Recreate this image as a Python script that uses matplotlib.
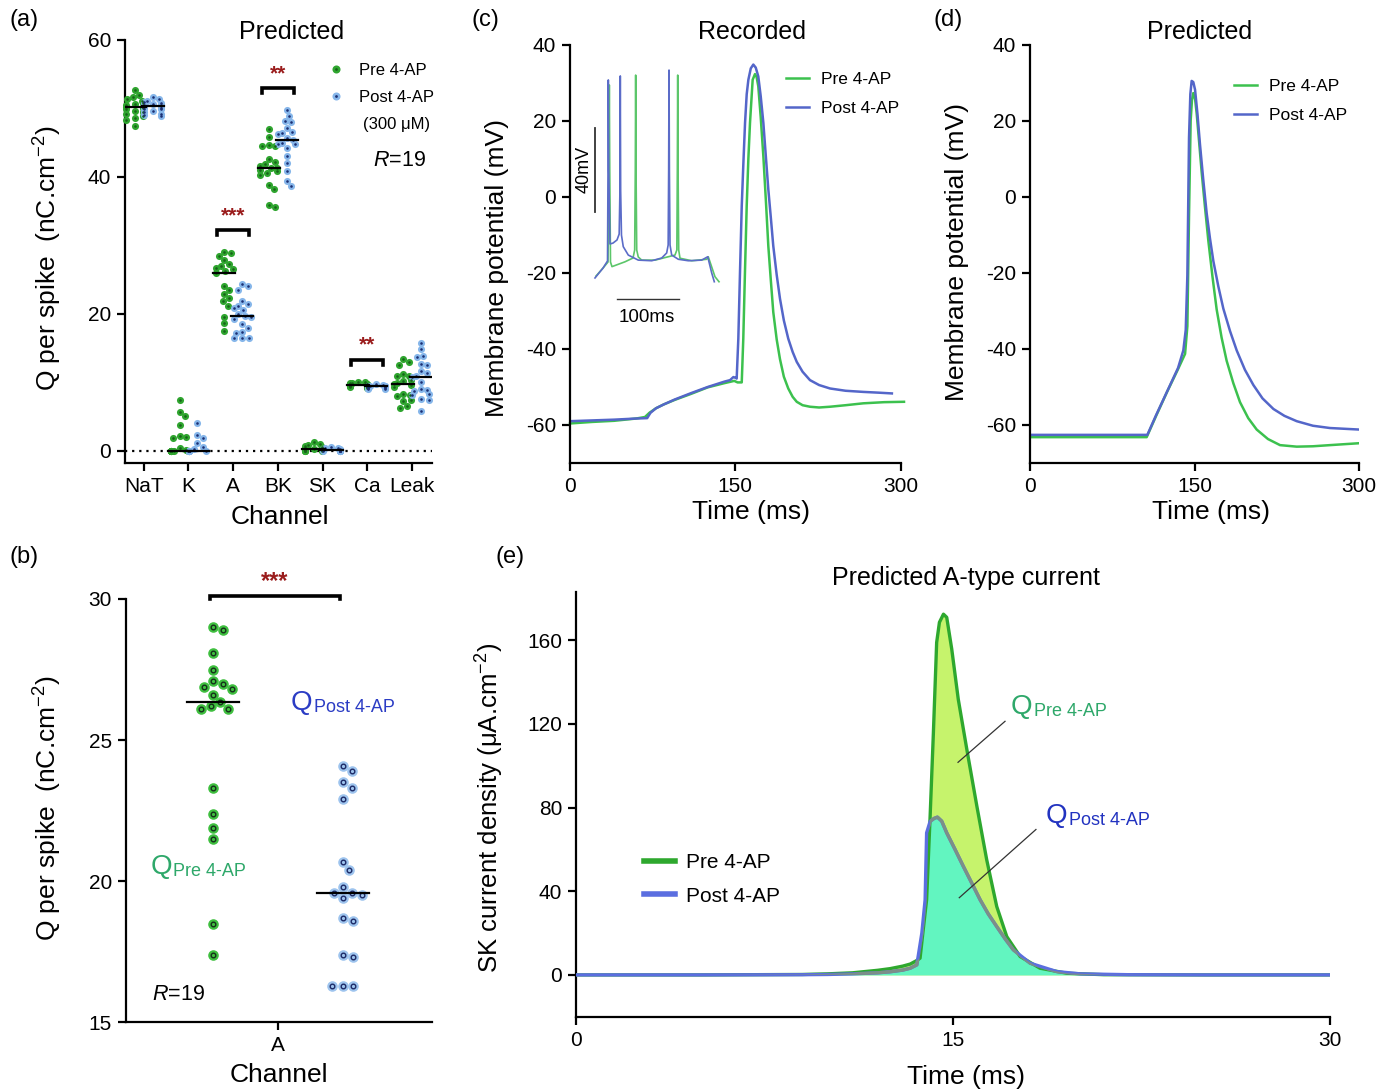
import numpy as np
import matplotlib
matplotlib.use('Agg')
import matplotlib.pyplot as plt
from matplotlib.lines import Line2D

plt.rcParams['font.family'] = ['Liberation Sans', 'DejaVu Sans']
plt.rcParams['mathtext.fontset'] = 'custom'
plt.rcParams['mathtext.rm'] = 'Liberation Sans'
plt.rcParams['mathtext.it'] = 'Liberation Sans:italic'
plt.rcParams['axes.unicode_minus'] = False

# ---------------- data ----------------
channels = ['NaT', 'K', 'A', 'BK', 'SK', 'Ca', 'Leak']

nat_pre = [52.6, 51.9, 51.6, 51.3, 51.0, 50.8, 50.6, 50.4, 50.2, 50.1, 50.0, 49.8, 49.6, 49.4, 49.2, 48.9, 48.6, 48.3, 47.4]
nat_post = [51.6, 51.3, 51.1, 50.9, 50.8, 50.6, 50.5, 50.4, 50.3, 50.3, 50.2, 50.0, 49.9, 49.8, 49.6, 49.4, 49.2, 49.0, 48.8]
k_pre = [7.4, 5.7, 5.1, 3.8, 2.2, 2.0, 1.9, 0.4, 0.2, 0, 0, 0, 0, 0, 0, 0, 0, 0, 0]
k_post = [4.1, 2.3, 1.9, 1.1, 0.6, 0.3, 0, 0, 0, 0, 0, 0, 0, 0, 0, 0, 0, 0, 0]
a_pre = [29.0, 28.9, 28.4, 27.8, 27.2, 27.0, 26.7, 26.5, 26.3, 26.0, 24.0, 23.4, 22.9, 22.3, 21.8, 21.2, 19.6, 18.6, 17.5]
a_post = [24.3, 24.0, 23.5, 21.9, 21.4, 21.2, 20.8, 20.6, 20.0, 19.7, 19.6, 19.2, 18.5, 18.0, 17.4, 17.2, 16.4, 16.4, 16.4]
bk_pre = [46.9, 45.8, 44.6, 44.5, 44.4, 42.6, 42.2, 41.8, 41.6, 41.3, 41.2, 41.0, 40.8, 40.5, 40.2, 38.8, 38.2, 35.9, 35.6]
bk_post = [49.7, 48.8, 48.1, 47.9, 47.1, 46.5, 46.4, 46.2, 45.6, 45.4, 44.9, 44.8, 44.7, 44.2, 43.0, 42.0, 40.8, 39.3, 38.6]
sk_pre = [1.3, 1.0, 0.9, 0.7, 0.6, 0.5, 0.5, 0.4, 0.3, 0.3, 0.2, 0.2, 0.1, 0.1, 0.1, 0.0, 0.0, 0.0, 0.0]
sk_post = [0.6, 0.5, 0.4, 0.3, 0.3, 0.2, 0.2, 0.2, 0.1, 0.1, 0.1, 0.1, 0.0, 0.0, 0.0, 0.0, 0.0, 0.0, 0.0]
ca_pre = [10.1, 10.0, 9.9, 9.9, 9.8, 9.8, 9.7, 9.7, 9.6, 9.6, 9.6, 9.5, 9.5, 9.5, 9.4, 9.4, 9.3, 9.3, 9.2]
ca_post = [9.7, 9.6, 9.5, 9.5, 9.5, 9.4, 9.4, 9.4, 9.4, 9.4, 9.3, 9.3, 9.3, 9.3, 9.2, 9.2, 9.2, 9.1, 9.1]
leak_pre = [13.4, 12.9, 12.6, 11.2, 11.0, 10.9, 10.4, 10.2, 9.9, 9.8, 9.6, 9.3, 8.3, 8.2, 8.0, 7.5, 7.3, 6.5, 6.3]
leak_post = [15.8, 14.8, 13.9, 13.7, 12.7, 12.5, 11.7, 11.3, 11.0, 10.8, 10.1, 9.0, 8.9, 8.8, 8.3, 8.2, 7.6, 7.4, 5.8]
pre_groups = [nat_pre, k_pre, a_pre, bk_pre, sk_pre, ca_pre, leak_pre]
post_groups = [nat_post, k_post, a_post, bk_post, sk_post, ca_post, leak_post]
# significance: channel index, star text
sig_marks = [(2, '***'), (3, '**'), (5, '**')]

# panel (b): A-type charge
b_pre = [29.0, 28.9, 28.1, 27.5, 27.1, 27.0, 26.9, 26.8, 26.6, 26.35, 26.2, 26.1, 26.1, 23.3, 22.4, 21.9, 21.5, 18.5, 17.4]
b_post = [24.1, 23.9, 23.5, 23.3, 22.9, 20.7, 20.4, 19.8, 19.6, 19.6, 19.5, 19.4, 18.7, 18.6, 17.4, 17.3, 16.3, 16.3, 16.3]

# panel (c): recorded AP
rec_t_pre = [0, 20, 40, 60, 68, 72, 78, 85, 95, 110, 125, 140, 149, 152, 155.8, 157.2, 158.7, 160.3, 161.8, 163.3, 165.7,
             167.8, 169.3, 170.8, 173, 175.4, 177.7, 179.9, 182.2, 184.4, 187.5, 190.5, 194, 198, 202, 205.7, 211,
             217.7, 226, 235.9, 250, 266.1, 285, 303]
rec_v_pre = [-59.6, -59.2, -58.9, -58.3, -57.9, -56.8, -55.6, -54.6, -53.4, -51.8, -50.1, -49.0, -48.4, -48.8, -48.8,
             -37.3, -20, -2.4, 10, 19.5, 30.8, 32.3, 31.5, 29.1, 21, 10.7, -1, -12.9, -22, -30.3, -37.5, -42.7, -47.3,
             -50.4, -52.6, -53.9, -54.8, -55.2, -55.4, -55.2, -54.8, -54.3, -54.0, -53.9]
rec_t_post = [0, 20, 40, 60, 70, 73, 78, 85, 95, 110, 125, 140, 145.2, 148.2, 150.3, 151.2, 152.7, 154.2, 155.8, 157.3,
              158.8, 160.3, 161.8, 164, 166.3, 168.5, 170.8, 173, 175.4, 177.7, 179.9, 182.2, 184.4, 187.5, 190.5,
              194, 198, 202, 205.7, 211, 217.7, 226, 235.9, 250, 266.1, 280, 292]
rec_v_post = [-59.0, -58.8, -58.6, -58.3, -58.2, -56.8, -55.6, -54.6, -53.3, -51.6, -50.0, -48.6, -48.2, -47.4, -47.6,
              -47.8, -37.3, -20, -2.4, 9, 19.5, 27, 30.8, 33.8, 34.8, 34.0, 31.7, 26.5, 19.5, 10.5, 2.0, -5.5, -12.9,
              -20.5, -26.8, -32.5, -37.3, -40.8, -43.4, -46, -48.2, -49.5, -50.4, -51.0, -51.3, -51.5, -51.7]

# inset of (c): spike train
ins_t_pre = [1.6, 12.9, 21.0, 22.4, 23.1, 23.8, 25.0, 27.4, 48.4, 61.3, 64.0, 65.0, 65.6, 66.2, 67.3, 69.8, 75.3, 96.8,
             118.2, 129.0, 132.0, 132.8, 133.4, 134.0, 135.0, 137.1, 156.0, 180.2, 182.7, 193.5, 200.0]
ins_v_pre = [-90.5, -86.7, -83.8, -40, 0.5, -40, -83.8, -86.0, -83.7, -81.9, -78.1, -40, 5.2, -40, -78.1, -81.4, -82.9,
             -82.9, -81.3, -80.5, -78.1, -40, 5.2, -40, -78.1, -82.0, -83.2, -82.5, -81.3, -90.8, -93.2]
ins_t_post = [0, 12.9, 20.2, 21.0, 21.5, 22.2, 24.2, 29.0, 35.5, 39.0, 40.2, 40.8, 41.4, 42.7, 45.6, 53.7, 69.8, 91.5,
              107.6, 115.6, 118.0, 118.8, 119.4, 120.0, 121.0, 123.7, 134.4, 150.5, 172.1, 181.8, 188.2, 192.4]
ins_v_post = [-91.4, -86.7, -83.3, -40, 2.9, -40, -75.2, -74.8, -73.3, -70.5, -50, 4.8, -50, -71, -76.5, -80.5, -82.9,
              -83.2, -81.9, -79.5, -75.7, -40, 7.6, -40, -75.7, -80.5, -82.5, -83.2, -82.9, -81.3, -89, -93.2]

# panel (d): predicted AP
pred_t_pre = [0, 50, 106.4, 115, 125, 135, 141.4, 143.5, 145, 146.5, 147.7, 148.9, 150.5, 152, 154.2, 156.5, 159.5,
              162.6, 166.4, 170.2, 174.7, 179.3, 185.4, 191.5, 199, 206.7, 217, 228, 243.2, 258, 273.5, 300]
pred_v_pre = [-63.2, -63.2, -63.2, -57.6, -51.3, -45.3, -41.3, -34, -5, 20.1, 25.5, 27.3, 25.8, 21.9, 14.5, 6.6, -2.5,
              -11.5, -21, -29.6, -37, -43.1, -49, -54, -58.2, -61.2, -63.7, -65.3, -65.7, -65.6, -65.3, -64.8]
pred_t_post = [0, 50, 107, 115, 125, 135, 139.8, 142, 143.5, 145, 146.2, 147.4, 148.9, 150.5, 152.7, 155, 158, 161.1,
               164.1, 167.2, 171.7, 176.3, 182.4, 188.5, 196, 203.7, 212, 222, 232, 243.2, 258, 273.5, 300]
pred_v_post = [-62.6, -62.6, -62.6, -57.4, -51.2, -45, -40.4, -35, -20.6, 15.6, 27, 30.5, 30.2, 28.2, 21.8, 13.8, 4.5,
               -4.3, -10.9, -16.9, -23.5, -29.4, -35.3, -40.4, -45.5, -49.5, -53, -55.8, -57.6, -59, -60.2, -60.8, -61.2]

# panel (e): predicted A-type current
cur_t_pre = [0, 5, 9, 10, 11, 12, 12.5, 13, 13.3, 13.56, 13.69, 13.8, 13.95, 14.09, 14.22, 14.35, 14.46, 14.62, 14.75,
             14.95, 15.21, 15.55, 15.95, 16.34, 16.74, 17.14, 17.67, 18.46, 19.53, 21, 25, 30]
cur_v_pre = [0, 0, 0.2, 0.5, 1.0, 2.2, 3.0, 4.2, 5.2, 6.9, 8.0, 20, 35.9, 75.8, 115.8, 158.9, 168.5, 172.4, 170.9,
             155.7, 131.7, 107.8, 80.6, 55.1, 32.7, 18.3, 8.8, 3.2, 0.8, 0.1, 0, 0]
cur_t_post = [0, 5, 9, 10, 11, 12, 12.5, 13, 13.3, 13.56, 13.76, 13.89, 13.95, 14.09, 14.25, 14.38, 14.55, 14.75,
              15.08, 15.41, 15.75, 16.08, 16.4, 16.74, 17.07, 17.4, 18.07, 19.13, 20.06, 22, 25, 30]
cur_v_post = [0, 0, 0.1, 0.2, 0.5, 1.0, 1.5, 2.3, 3.2, 4.8, 20, 35.9, 67.9, 73.4, 74.8, 75.4, 73.5, 67.9, 60, 51.9,
              43.8, 35.9, 29.2, 23.1, 17.3, 12, 5.6, 1.6, 0.5, 0.1, 0, 0]

# ---------------- style ----------------
W, H = 1392, 1091
G_DOT, G_IN = '#2fa52f', '#17631a'
B_DOT, B_IN = '#86b6ea', '#1c2f72'
G_LINE, B_LINE = '#3cc14e', '#5466c9'
STAR = '#9a1c1c'
TICK = 15
LAB = 19

fig = plt.figure(figsize=(W / 100, H / 100), dpi=100)


def add_ax(x0, y0, x1, y1):
    # pixel box (left, top, right, bottom) -> axes
    ax = fig.add_axes([x0 / W, 1 - y1 / H, (x1 - x0) / W, (y1 - y0) / H])
    for s in ['top', 'right']:
        ax.spines[s].set_visible(False)
    for s in ['left', 'bottom']:
        ax.spines[s].set_linewidth(1.6)
    ax.tick_params(direction='out', length=6, width=1.6, labelsize=TICK, pad=4)
    return ax


def ftext(x, y, s, **kw):
    return fig.text(x / W, 1 - y / H, s, ha='center', va='center', **kw)


def swarm_x(ax, values, center, diam, max_half):
    tr = ax.transData
    vals = np.asarray(values, float)
    pix = tr.transform(np.column_stack([np.full(len(vals), center), vals]))
    cx, ys = pix[0, 0], pix[:, 1]
    offs = np.zeros(len(vals))
    placed = []
    for i in np.argsort(-vals, kind='stable'):
        y = ys[i]
        cands = [0.0]
        for j in placed:
            dy = abs(ys[j] - y)
            if dy < diam:
                dx = np.sqrt(diam ** 2 - dy ** 2)
                cands += [offs[j] + dx, offs[j] - dx]
        cands.sort(key=abs)
        chosen = 0.0
        for c in cands:
            if all((offs[j] - c) ** 2 + (ys[j] - y) ** 2 >= diam ** 2 - 1e-6 for j in placed):
                chosen = c
                break
        offs[i] = np.clip(chosen, -max_half, max_half)
        placed.append(i)
    return tr.inverted().transform(np.column_stack([cx + offs, ys]))[:, 0]


def bracket(ax, x0, x1, y, h, stars, dy, size=15):
    ax.plot([x0, x0, x1, x1], [y - h, y, y, y - h], color='k', lw=2.6, clip_on=False,
            solid_joinstyle='miter')
    ax.text((x0 + x1) / 2, y + dy, stars, ha='center', va='center', color=STAR,
            fontsize=size, fontweight='bold', clip_on=False)


# ---------------- (a) ----------------
ax = add_ax(125, 39.5, 432, 463.3)
ax.set_xlim(-0.42, 6.45)
ax.set_ylim(-1.8, 60)
ax.set_yticks([0, 20, 40, 60])
ax.set_xticks(range(len(channels)))
ax.set_xticklabels(channels)
ax.axhline(0, color='k', lw=1.6, ls=(0, (1, 2.2)), zorder=1)
for i, (pre, post) in enumerate(zip(pre_groups, post_groups)):
    for vals, off, c_out, c_in in [(pre, -0.2, G_DOT, G_IN), (post, 0.2, B_DOT, B_IN)]:
        xs = swarm_x(ax, vals, i + off, 6.6, 8.5)
        ax.scatter(xs, vals, s=26, color=c_out, lw=0, zorder=3, clip_on=False)
        ax.scatter(xs, vals, s=3.5, color=c_in, lw=0, zorder=4, clip_on=False)
        m = np.median(vals)
        ax.plot([i + off - 0.25, i + off + 0.25], [m, m], color='k', lw=1.6, zorder=5)
for i, stars in sig_marks:
    top = max(max(pre_groups[i]), max(post_groups[i]))
    bracket(ax, i - 0.36, i + 0.36, top + 3.2, 0.7, stars, 2.1)
h_pre = (Line2D([], [], ls='', marker='o', ms=5.8, mfc=G_DOT, mec='none'),
         Line2D([], [], ls='', marker='o', ms=2, mfc=G_IN, mec='none'))
h_post = (Line2D([], [], ls='', marker='o', ms=5.8, mfc=B_DOT, mec='none'),
          Line2D([], [], ls='', marker='o', ms=2, mfc=B_IN, mec='none'))
ax.legend([h_pre, h_post], ['Pre 4-AP', 'Post 4-AP'], loc='upper left', frameon=False,
          bbox_to_anchor=(326 / W, 1 - 63 / H), bbox_transform=fig.transFigure,
          fontsize=12, handlelength=1.2, handletextpad=0.8, labelspacing=0.7,
          borderpad=0, borderaxespad=0)
ftext(397, 124, '(300 \u03bcM)', fontsize=12)
ftext(399, 160, r'$\it{R}$=19', fontsize=15.5)
ftext(292, 32, 'Predicted', fontsize=18)
ftext(280, 517, 'Channel', fontsize=LAB)
ftext(48, 258, 'Q per spike  (nC.cm$^{-2}$)', fontsize=LAB, rotation=90)
ftext(24, 20, '(a)', fontsize=17)

# ---------------- (b) ----------------
axb = add_ax(126, 599, 431.7, 1022.4)
axb.set_xlim(-1.167, 1.185)
axb.set_ylim(15, 30)
axb.set_yticks([15, 20, 25, 30])
axb.set_xticks([0])
axb.set_xticklabels(['A'])
for vals, xc, c_out, c_edge in [(b_pre, -0.5, '#3fbf3f', '#15301a'), (b_post, 0.5, '#9ec4ee', '#1c2a66')]:
    xs = swarm_x(axb, vals, xc, 10.5, 20)
    axb.scatter(xs, vals, s=58, color=c_out, lw=0, zorder=3, clip_on=False)
    axb.scatter(xs, vals, s=11, facecolor=c_out, edgecolor=c_edge, lw=1.0, zorder=4, clip_on=False)
    m = np.median(vals)
    axb.plot([xc - 0.2, xc + 0.2], [m, m], color='k', lw=1.6, zorder=5)
bracket(axb, -0.52, 0.48, 30.12, 0.12, '***', 0.5, size=17)
q1 = axb.text(-0.98, 20.5, 'Q', fontsize=20, color='#2ea86a', va='center')
axb.annotate('Pre 4-AP', xy=(1, 0), xycoords=q1, xytext=(1, 0), textcoords='offset points',
             fontsize=13, color='#2ea86a', va='bottom')
q2 = axb.text(0.1, 26.3, 'Q', fontsize=20, color='#2b3cc4', va='center')
axb.annotate('Post 4-AP', xy=(1, 0), xycoords=q2, xytext=(1, 0), textcoords='offset points',
             fontsize=13, color='#2b3cc4', va='bottom')
ftext(178, 995, r'$\it{R}$=19', fontsize=15.5)
ftext(279, 1075, 'Channel', fontsize=LAB)
ftext(48, 808, 'Q per spike  (nC.cm$^{-2}$)', fontsize=LAB, rotation=90)
ftext(24, 557, '(b)', fontsize=17)

# ---------------- (c) ----------------
axc = add_ax(570, 44.8, 900.7, 463)
axc.set_xlim(0, 300)
axc.set_ylim(-70, 40)
axc.set_xticks([0, 150, 300])
axc.set_yticks([-60, -40, -20, 0, 20, 40])
axc.plot(rec_t_pre, rec_v_pre, color=G_LINE, lw=1.8, label='Pre 4-AP', clip_on=False)
axc.plot(rec_t_post, rec_v_post, color=B_LINE, lw=1.8, label='Post 4-AP')
axc.legend(loc='upper left', frameon=False, bbox_to_anchor=(786 / W, 1 - 72 / H),
           bbox_transform=fig.transFigure, fontsize=12.5, handlelength=1.3, handletextpad=0.7,
           labelspacing=0.8, borderpad=0, borderaxespad=0)
ftext(752, 32, 'Recorded', fontsize=18)
ftext(751, 512, 'Time (ms)', fontsize=LAB)
ftext(497, 268, 'Membrane potential (mV)', fontsize=LAB, rotation=90)
ftext(485, 20, '(c)', fontsize=17)

# inset: spike train with scale bars
axi = fig.add_axes([578 / W, 1 - 325 / H, 150 / W, 265 / H])
axi.set_xlim(-27.4, 214.5)
axi.set_ylim(-113.8, 12.4)
axi.axis('off')
axi.plot(ins_t_pre, ins_v_pre, color='#5cc66a', lw=1.2)
axi.plot(ins_t_post, ins_v_post, color='#5b6cc8', lw=1.2)
axi.plot([0, 0], [-60, -20], color='#333333', lw=1.3)
axi.text(-17.7, -39.5, '40mV', rotation=90, ha='center', va='center', fontsize=13)
axi.plot([35.5, 135.5], [-101.4, -101.4], color='#333333', lw=1.0)
axi.text(84, -110, '100ms', ha='center', va='center', fontsize=13.5)

# ---------------- (d) ----------------
axd = add_ax(1030, 44.8, 1359, 463)
axd.set_xlim(0, 300)
axd.set_ylim(-70, 40)
axd.set_xticks([0, 150, 300])
axd.set_yticks([-60, -40, -20, 0, 20, 40])
axd.plot(pred_t_pre, pred_v_pre, color=G_LINE, lw=1.8, label='Pre 4-AP')
axd.plot(pred_t_post, pred_v_post, color=B_LINE, lw=1.8, label='Post 4-AP')
axd.legend(loc='upper left', frameon=False, bbox_to_anchor=(1234 / W, 1 - 79 / H),
           bbox_transform=fig.transFigure, fontsize=12.5, handlelength=1.3, handletextpad=0.7,
           labelspacing=0.8, borderpad=0, borderaxespad=0)
ftext(1200, 32, 'Predicted', fontsize=18)
ftext(1211, 512, 'Time (ms)', fontsize=LAB)
ftext(957, 252, 'Membrane potential (mV)', fontsize=LAB, rotation=90)
ftext(948, 20, '(d)', fontsize=17)

# ---------------- (e) ----------------
axe = add_ax(576, 592, 1330, 1016.75)
axe.set_xlim(0, 30)
axe.set_ylim(-20, 183)
axe.set_xticks([0, 15, 30])
axe.set_yticks([0, 40, 80, 120, 160])
pre_fill = axe.fill_between(cur_t_pre, cur_v_pre, 0, color='#c6f36c', lw=0, zorder=1)
axe.fill_between(cur_t_post, cur_v_post, 0, color='#62f5c0', lw=0, zorder=2)
axe.plot(cur_t_pre, cur_v_pre, color='#2ea82e', lw=2.4, zorder=3, label='Pre 4-AP')
axe.plot(cur_t_post, cur_v_post, color='#5b6ee0', lw=2.4, zorder=4, label='Post 4-AP')
grey, = axe.plot(cur_t_post, cur_v_post, color='#7c8f88', lw=2.4, zorder=5)
grey.set_clip_path(pre_fill.get_paths()[0], axe.transData)
axe.plot([15.2, 17.07], [101.6, 121.2], color='#333333', lw=0.9, zorder=6)
axe.plot([15.25, 18.3], [36.9, 69.5], color='#333333', lw=0.9, zorder=6)
q3 = axe.text(17.3, 128, 'Q', fontsize=20, color='#2ea86a', va='center')
axe.annotate('Pre 4-AP', xy=(1, 0), xycoords=q3, xytext=(1, 0), textcoords='offset points',
             fontsize=13, color='#2ea86a', va='bottom')
q4 = axe.text(18.7, 76, 'Q', fontsize=20, color='#2233c0', va='center')
axe.annotate('Post 4-AP', xy=(1, 0), xycoords=q4, xytext=(1, 0), textcoords='offset points',
             fontsize=13, color='#2233c0', va='bottom')
axe.legend(loc='upper left', frameon=False, bbox_to_anchor=(644 / W, 1 - 853 / H),
           bbox_transform=fig.transFigure, fontsize=15, handlelength=1.5, handletextpad=0.5,
           labelspacing=0.7, borderpad=0, borderaxespad=0)
for lh in axe.get_legend().get_lines():
    lh.set_linewidth(4)
ftext(966, 578, 'Predicted A-type current', fontsize=18)
ftext(966, 1077, 'Time (ms)', fontsize=LAB)
ftext(490, 808, 'SK current density (\u03bcA.cm$^{-2}$)', fontsize=18.5, rotation=90)
ftext(510, 557, '(e)', fontsize=17)

fig.savefig('out.png', dpi=100)
